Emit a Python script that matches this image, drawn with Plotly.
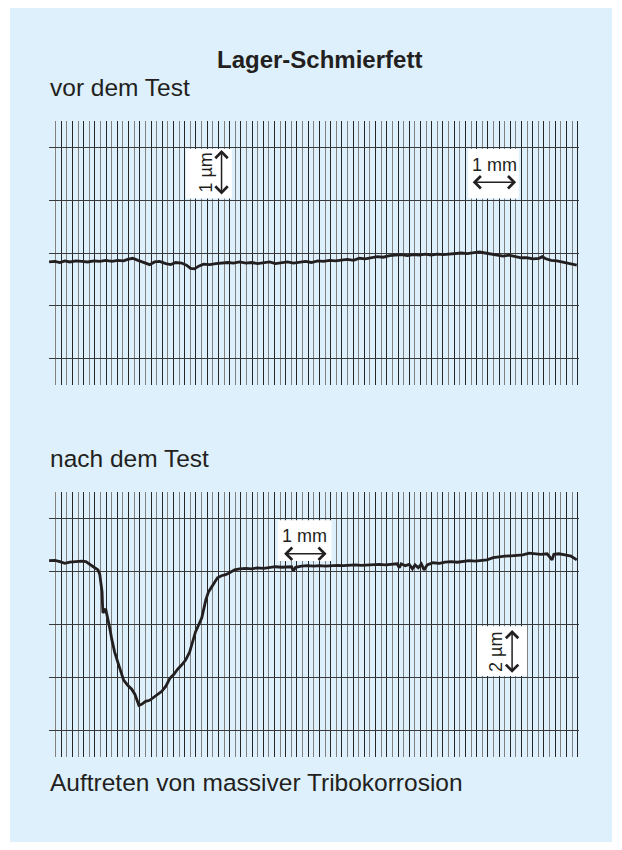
import plotly.graph_objects as go

# ---------------- data (x in mm, y in µm) ----------------
before_x = [-0.02, 0.11, 0.22, 0.33, 0.44, 0.58, 0.71, 0.84, 0.98, 1.11,
            1.24, 1.38, 1.51, 1.64, 1.73, 1.84, 1.96, 2.09, 2.22, 2.33,
            2.44, 2.58, 2.69, 2.80, 2.93, 3.04, 3.13, 3.22, 3.31, 3.42,
            3.56, 3.69, 3.82, 3.96, 4.09, 4.22, 4.36, 4.49, 4.62, 4.76,
            4.89, 5.02, 5.16, 5.29, 5.42, 5.56, 5.69, 5.82, 5.96, 6.09,
            6.22, 6.36, 6.49, 6.62, 6.76, 6.89, 7.02, 7.16, 7.29, 7.42,
            7.56, 7.69, 7.82, 7.96, 8.09, 8.22, 8.36, 8.49, 8.62, 8.76,
            8.89, 9.02, 9.16, 9.29, 9.42, 9.56, 9.69, 9.82, 9.96, 10.09,
            10.22, 10.36, 10.49, 10.62, 10.76, 10.89, 10.96, 11.04, 11.16, 11.29,
            11.42, 11.56, 11.73]
before_y = [-0.17, -0.16, -0.18, -0.15, -0.17, -0.15, -0.16, -0.17, -0.15, -0.16,
            -0.14, -0.16, -0.14, -0.15, -0.12, -0.10, -0.14, -0.18, -0.22, -0.17,
            -0.16, -0.20, -0.22, -0.18, -0.19, -0.23, -0.29, -0.30, -0.25, -0.21,
            -0.22, -0.20, -0.19, -0.18, -0.19, -0.17, -0.19, -0.18, -0.20, -0.19,
            -0.17, -0.20, -0.18, -0.17, -0.19, -0.17, -0.16, -0.18, -0.15, -0.16,
            -0.14, -0.15, -0.13, -0.12, -0.14, -0.10, -0.11, -0.09, -0.07, -0.08,
            -0.05, -0.04, -0.03, -0.05, -0.03, -0.04, -0.02, -0.04, -0.02, -0.03,
            -0.02, -0.01, 0.00, -0.01, 0.01, 0.02, 0.00, -0.02, -0.03, -0.06,
            -0.04, -0.07, -0.09, -0.09, -0.11, -0.10, -0.07, -0.11, -0.14, -0.15,
            -0.17, -0.19, -0.23]

after_x = [-0.02, 0.11, 0.22, 0.33, 0.44, 0.58, 0.71, 0.80, 0.89, 0.98,
           1.07, 1.11, 1.13, 1.16, 1.17, 1.18, 1.24, 1.29, 1.33, 1.38,
           1.44, 1.51, 1.58, 1.64, 1.73, 1.82, 1.89, 1.93, 1.98, 2.04,
           2.13, 2.22, 2.31, 2.40, 2.49, 2.58, 2.67, 2.76, 2.84, 2.93,
           3.02, 3.11, 3.18, 3.24, 3.31, 3.38, 3.42, 3.47, 3.53, 3.60,
           3.67, 3.73, 3.82, 3.91, 4.00, 4.11, 4.22, 4.36, 4.49, 4.62,
           4.76, 4.89, 5.02, 5.16, 5.29, 5.38, 5.42, 5.47, 5.60, 5.73,
           5.87, 6.00, 6.13, 6.27, 6.40, 6.53, 6.67, 6.80, 6.93, 7.07,
           7.20, 7.33, 7.47, 7.60, 7.73, 7.78, 7.82, 7.91, 8.00, 8.07,
           8.13, 8.20, 8.27, 8.33, 8.40, 8.53, 8.67, 8.80, 8.93, 9.07,
           9.20, 9.33, 9.47, 9.60, 9.73, 9.87, 10.00, 10.13, 10.27, 10.40,
           10.53, 10.67, 10.80, 10.93, 11.07, 11.13, 11.18, 11.22, 11.33, 11.47,
           11.60, 11.73]
after_y = [2.41, 2.42, 2.37, 2.31, 2.35, 2.37, 2.39, 2.37, 2.25, 2.16,
           2.06, 1.88, 1.61, 1.23, 0.74, 0.44, 0.59, 0.25, -0.13, -0.59,
           -1.04, -1.42, -1.80, -2.10, -2.29, -2.44, -2.63, -2.86, -3.05, -3.01,
           -2.90, -2.86, -2.75, -2.63, -2.52, -2.33, -2.03, -1.88, -1.69, -1.53,
           -1.34, -1.04, -0.66, -0.28, -0.02, 0.25, 0.55, 0.93, 1.23, 1.42,
           1.61, 1.76, 1.84, 1.88, 1.95, 2.06, 2.10, 2.12, 2.10, 2.14,
           2.12, 2.16, 2.18, 2.16, 2.18, 2.18, 2.03, 2.16, 2.20, 2.22,
           2.20, 2.22, 2.20, 2.22, 2.23, 2.22, 2.23, 2.25, 2.23, 2.25,
           2.25, 2.27, 2.25, 2.27, 2.29, 2.14, 2.29, 2.22, 2.27, 2.10,
           2.25, 2.14, 2.29, 2.06, 2.25, 2.33, 2.31, 2.35, 2.37, 2.35,
           2.39, 2.41, 2.39, 2.42, 2.44, 2.52, 2.56, 2.58, 2.59, 2.61,
           2.63, 2.69, 2.67, 2.65, 2.67, 2.56, 2.44, 2.65, 2.67, 2.63,
           2.58, 2.44]

title_text = "Lager-Schmierfett"
label_before = "vor dem Test"
label_after = "nach dem Test"
caption_text = "Auftreten von massiver Tribokorrosion"
scale_labels = ["1 µm", "1 mm", "1 mm", "2 µm"]

# ---------------- styling ----------------
FONT = "Liberation Sans, Arial, Helvetica, sans-serif"
INK = "#231f20"
BLUE = "#ddf0fb"
X_RANGE = [-0.022, 11.78]

fig = go.Figure()
fig.add_trace(go.Scatter(x=before_x, y=before_y, mode="lines", xaxis="x", yaxis="y",
                         line=dict(color=INK, width=2.8), hoverinfo="skip", showlegend=False))
fig.add_trace(go.Scatter(x=after_x, y=after_y, mode="lines", xaxis="x2", yaxis="y2",
                         line=dict(color=INK, width=2.8), hoverinfo="skip", showlegend=False))

def xaxis_cfg(domain, anchor):
    return dict(domain=domain, anchor=anchor, range=X_RANGE, showticklabels=False, ticks="",
                showline=False, zeroline=False, showgrid=True, tick0=0, dtick=0.25,
                gridcolor="#262626", gridwidth=1.4,
                minor=dict(tick0=0, dtick=0.125, showgrid=True, gridcolor="#808080", gridwidth=1.4))

def yaxis_cfg(domain, anchor, rng, dt):
    return dict(domain=domain, anchor=anchor, range=rng, showticklabels=False, ticks="",
                showline=False, zeroline=False, showgrid=True, tick0=0, dtick=dt,
                gridcolor="#3a3a3a", gridwidth=1.4)

xd = [49 / 622, 579 / 622]
fig.update_layout(
    width=622, height=850, autosize=False,
    margin=dict(l=0, r=0, t=0, b=0),
    paper_bgcolor="white", plot_bgcolor="white",
    xaxis=xaxis_cfg(xd, "y"),
    yaxis=yaxis_cfg([1 - 385 / 850, 1 - 121 / 850], "x", [-2.5, 2.5], 1),
    xaxis2=xaxis_cfg(xd, "y2"),
    yaxis2=yaxis_cfg([1 - 757 / 850, 1 - 492 / 850], "x2", [-5, 5], 2),
    showlegend=False,
)

shapes = [
    dict(type="rect", xref="paper", yref="paper", x0=10 / 622, x1=612 / 622,
         y0=1 - 842 / 850, y1=1 - 8 / 850, fillcolor=BLUE, line=dict(width=0), layer="below"),
    # white label boxes
    dict(type="rect", xref="x", yref="y", x0=3.03, x1=4.05, y0=1.03, y1=1.97,
         fillcolor="white", line=dict(width=0), layer="above"),
    dict(type="rect", xref="x", yref="y", x0=9.31, x1=10.44, y0=1.03, y1=1.97,
         fillcolor="white", line=dict(width=0), layer="above"),
    dict(type="rect", xref="x2", yref="y2", x0=5.07, x1=6.27, y0=2.40, y1=3.93,
         fillcolor="white", line=dict(width=0), layer="above"),
    dict(type="rect", xref="x2", yref="y2", x0=9.51, x1=10.62, y0=-1.94, y1=-0.07,
         fillcolor="white", line=dict(width=0), layer="above"),
]
fig.update_layout(shapes=shapes)

ann = []
def txt(text, x, y, size, bold=False, xanchor="left"):
    ann.append(dict(text=f"<b>{text}</b>" if bold else text, x=x, y=y, xref="paper", yref="paper",
                    xanchor=xanchor, yanchor="middle", showarrow=False,
                    font=dict(family=FONT, size=size, color=INK)))

txt(title_text, 319 / 622, 1 - 60 / 850, 24, bold=True, xanchor="center")
txt(label_before, 48 / 622, 1 - 88 / 850, 24.5)
txt(label_after, 48 / 622, 1 - 458 / 850, 24.5)
txt(caption_text, 48 / 622, 1 - 782 / 850, 24.5)

def scale_text(text, x, y, xr, yr, angle=0):
    ann.append(dict(text=text, x=x, y=y, xref=xr, yref=yr, showarrow=False, textangle=angle,
                    xanchor="center", yanchor="middle",
                    font=dict(family=FONT, size=18, color=INK)))

def dbl_arrow(x0, y0, x1, y1, xr, yr):
    ann.append(dict(text="", x=x1, y=y1, ax=x0, ay=y0, xref=xr, yref=yr, axref=xr, ayref=yr,
                    showarrow=True, arrowside="end+start", arrowhead=4, startarrowhead=4,
                    arrowsize=1.6, startarrowsize=1.6, arrowwidth=1.5, arrowcolor=INK))

scale_text(scale_labels[0], 3.47, 1.52, "x", "y", -90)
dbl_arrow(3.82, 1.08, 3.82, 1.95, "x", "y")
scale_text(scale_labels[1], 9.89, 1.67, "x", "y")
dbl_arrow(9.38, 1.34, 10.38, 1.34, "x", "y")
scale_text(scale_labels[2], 5.67, 3.35, "x2", "y2")
dbl_arrow(5.18, 2.67, 6.16, 2.67, "x2", "y2")
scale_text(scale_labels[3], 9.93, -1.04, "x2", "y2", -90)
dbl_arrow(10.29, -1.88, 10.29, -0.21, "x2", "y2")

fig.update_layout(annotations=ann)
fig.write_html("out.html", config={"displayModeBar": False},
               post_script="document.body.style.margin='0';document.body.style.overflow='hidden';")
